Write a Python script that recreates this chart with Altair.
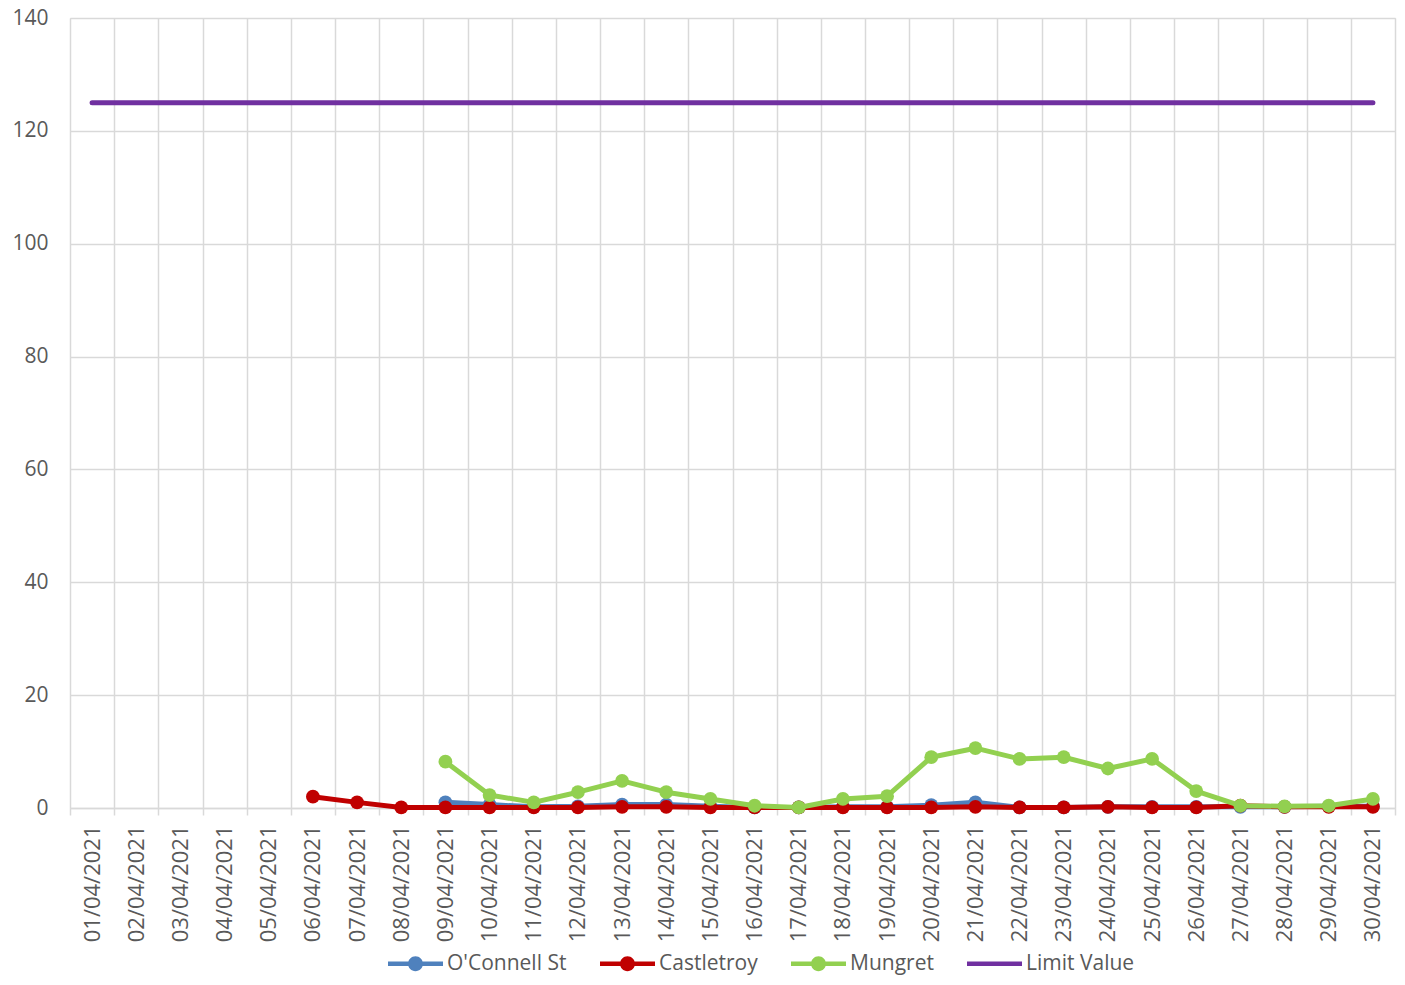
import json
import altair as alt
import pandas as pd

# ---------------- data ----------------
days = list(range(1, 31))
date_labels = [f"{d:02d}/04/2021" for d in days]
series_names = ["O'Connell St", "Castletroy", "Mungret", "Limit Value"]
series_colors = ["#4F81BD", "#C00000", "#92D050", "#7030A0"]

oconnell = [None] * 8 + [1.0, 0.6, 0.2, 0.3, 0.6, 0.6, 0.3, 0.1, 0.1, 0.2, 0.2,
                         0.5, 1.0, 0.1, 0.1, 0.2, 0.2, 0.2, 0.2, 0.2, 0.3, 0.3]
castletroy = [None] * 5 + [2.0, 1.0, 0.1, 0.1, 0.1, 0.1, 0.1, 0.2, 0.2, 0.1, 0.1,
                           0.1, 0.1, 0.1, 0.1, 0.2, 0.1, 0.1, 0.2, 0.1, 0.1, 0.4,
                           0.2, 0.2, 0.2]
mungret = [None] * 8 + [8.2, 2.3, 1.0, 2.8, 4.8, 2.8, 1.6, 0.4, 0.1, 1.6, 2.1,
                        9.0, 10.6, 8.7, 9.0, 7.0, 8.7, 3.0, 0.4, 0.3, 0.4, 1.6]
limit_value = [125] * 30

y_ticks = [0, 20, 40, 60, 80, 100, 120, 140]

rows = []
for name, vals in zip(series_names, [oconnell, castletroy, mungret, limit_value]):
    for d, v in zip(days, vals):
        if v is not None:
            rows.append({"day": d, "series": name, "value": v})
df = pd.DataFrame(rows)

# ---------------- styling ----------------
FONT = "Open Sans"
TXT = "#595959"
GRID = "#D9D9D9"

boundaries = [d - 0.5 for d in days] + [days[-1] + 0.5]
label_expr = (
    "datum.value < " + str(days[-1]) + " ? "
    + json.dumps(date_labels) + "[floor(datum.value + 0.5) - 1] : ''"
)

X = alt.X(
    "day:Q",
    scale=alt.Scale(domain=[boundaries[0], boundaries[-1]], nice=False, zero=False),
    axis=alt.Axis(
        values=boundaries, labelExpr=label_expr, title=None,
        labelAngle=-90, labelOffset=22, labelPadding=10, labelFlush=False,
        labelOverlap=False, labelFont=FONT, labelFontSize=22, labelColor=TXT,
        tickSize=7, tickColor=GRID, tickWidth=1.5,
        domainColor=GRID, domainWidth=1.5,
        grid=True, gridColor=GRID, gridWidth=1.5,
    ),
)
Y = alt.Y(
    "value:Q",
    scale=alt.Scale(domain=[0, 140], nice=False),
    axis=alt.Axis(
        values=y_ticks, title=None, domain=False, ticks=False,
        labelPadding=22, labelFont=FONT, labelFontSize=21, labelColor=TXT,
        grid=True, gridColor=GRID, gridWidth=1.5,
    ),
)
cscale = alt.Scale(domain=series_names, range=series_colors)

circle_path = ("M-1,-0.085H1V0.085H-1Z"
               "M0.27,0A0.27,0.27,0,1,1,-0.27,0A0.27,0.27,0,1,1,0.27,0Z")
line_path = "M-1,-0.085H1V0.085H-1Z"
sscale = alt.Scale(domain=series_names,
                   range=[circle_path, circle_path, circle_path, line_path])

layers = []
for name, col in zip(series_names, series_colors):
    base = alt.Chart(df).transform_filter(alt.datum.series == name)
    layers.append(
        base.mark_line(strokeWidth=5, strokeCap="round", strokeJoin="round",
                       color=col).encode(x=X, y=Y)
    )
    if name != "Limit Value":
        layers.append(
            base.mark_circle(size=190, opacity=1, color=col).encode(x=X, y=Y)
        )

leg = alt.Legend(
    orient="none", legendX=318, legendY=918, direction="horizontal",
    title=None, labelFont=FONT, labelFontSize=21, labelColor=TXT,
    labelOffset=4, columnPadding=33, symbolOpacity=1, symbolStrokeWidth=0,
    symbolSize=3025, labelLimit=400,
)
legend_layer = alt.Chart(df).mark_point(filled=True, opacity=0, size=3025).encode(
    x=X, y=Y,
    color=alt.Color("series:N", scale=cscale, legend=leg),
    shape=alt.Shape("series:N", scale=sscale, legend=leg),
)
layers.append(legend_layer)

chart = alt.layer(*layers).properties(
    width=1325,
    height=790,
    autosize=alt.AutoSizeParams(type="none"),
    padding={"left": 62, "top": 10, "right": 2, "bottom": 169},
    title=alt.TitleParams(
        text="SO₂ - 24 hour mean (µg/m³)", font=FONT, fontSize=40,
        fontWeight="normal", color=TXT, anchor="middle", dx=56, offset=6,
        baseline="alphabetic",
    ),
).configure_view(stroke=None).configure(background="white")

chart.save("out.html", embed_options={"renderer": "svg", "actions": False})
